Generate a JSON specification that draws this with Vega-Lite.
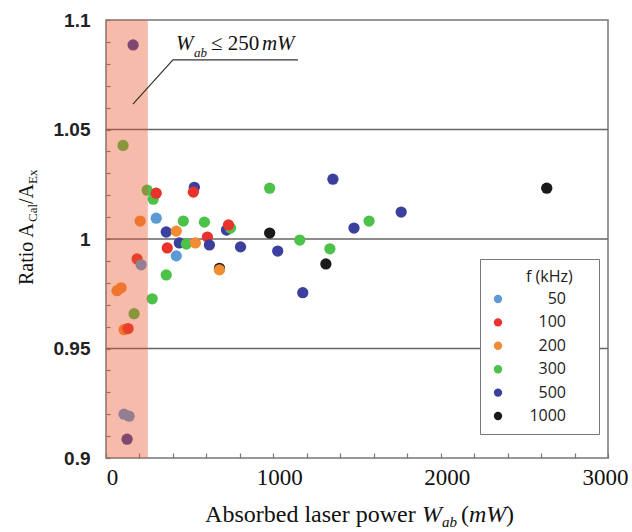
{
  "$schema": "https://vega.github.io/schema/vega-lite/v6.json",
  "width": 502,
  "height": 438,
  "autosize": {"type": "none"},
  "padding": {"left": 106, "top": 20, "right": 24, "bottom": 74},
  "background": "white",
  "config": {
    "view": {"stroke": "#777777", "strokeWidth": 1.5},
    "axis": {"grid": false, "domain": false, "labelOverlap": false}
  },
  "encoding": {
    "x": {
      "field": "x", "type": "quantitative", "title": null,
      "scale": {"domain": [0, 3000], "nice": false, "zero": false},
      "axis": {
        "values": [0, 200, 400, 600, 800, 1000, 1200, 1400, 1600, 1800, 2000, 2200, 2400, 2600, 2800, 3000],
        "format": "d",
        "labelExpr": "datum.value % 1000 == 0 ? datum.label : ''",
        "title": null, "labelOverlap": false,
        "ticks": true, "tickSize": -5, "tickColor": "#777777", "tickWidth": 1.2,
        "labelFont": "Liberation Serif", "labelFontSize": 23, "labelColor": "#111111",
        "labelPadding": 13, "labelFlush": false,
        "labelOffset": {"condition": {"test": "datum.value == 3000", "value": -3}, "value": 6},
        "labelBaseline": "top"
      }
    },
    "y": {
      "field": "y", "type": "quantitative", "title": null,
      "scale": {"domain": [0.9, 1.1], "nice": false, "zero": false},
      "axis": {
        "values": [0.9, 0.91, 0.92, 0.93, 0.94, 0.95, 0.96, 0.97, 0.98, 0.99, 1, 1.01, 1.02, 1.03, 1.04, 1.05, 1.06, 1.07, 1.08, 1.09, 1.1],
        "format": ".2~f",
        "labelExpr": "round(datum.value * 100) % 5 == 0 ? datum.label : ''",
        "title": null, "labelOverlap": false,
        "ticks": true, "tickSize": -4, "tickColor": "#777777", "tickWidth": 1.2,
        "labelFont": "Liberation Sans", "labelFontSize": 19, "labelFontWeight": "bold", "labelColor": "#222222",
        "labelPadding": 20, "labelBaseline": "middle"
      }
    }
  },
  "layer": [
    {
      "data": {"values": [{"y": 0.95, "x": 0, "x2": 3000}, {"y": 1.0, "x": 0, "x2": 3000}, {"y": 1.05, "x": 0, "x2": 3000}]},
      "mark": {"type": "rule", "color": "#666666", "strokeWidth": 1.5},
      "encoding": {"x2": {"field": "x2"}}
    },
    {
      "data": {"values": [
        {"x": 162, "y": 1.0886, "f": "500"},
        {"x": 102, "y": 1.0427, "f": "300"},
        {"x": 204, "y": 1.0082, "f": "200"},
        {"x": 246, "y": 1.0223, "f": "300"},
        {"x": 186, "y": 0.9909, "f": "100"},
        {"x": 210, "y": 0.9882, "f": "50"},
        {"x": 66, "y": 0.9764, "f": "200"},
        {"x": 90, "y": 0.9777, "f": "200"},
        {"x": 168, "y": 0.9659, "f": "300"},
        {"x": 108, "y": 0.9586, "f": "200"},
        {"x": 132, "y": 0.9591, "f": "100"},
        {"x": 108, "y": 0.92, "f": "50"},
        {"x": 138, "y": 0.9191, "f": "50"},
        {"x": 126, "y": 0.9086, "f": "500"},
        {"x": 282, "y": 1.0182, "f": "300"},
        {"x": 300, "y": 1.0209, "f": "100"},
        {"x": 300, "y": 1.0095, "f": "50"},
        {"x": 360, "y": 1.0032, "f": "500"},
        {"x": 420, "y": 1.0036, "f": "200"},
        {"x": 462, "y": 1.0082, "f": "300"},
        {"x": 528, "y": 1.0236, "f": "500"},
        {"x": 522, "y": 1.0214, "f": "100"},
        {"x": 588, "y": 1.0077, "f": "300"},
        {"x": 606, "y": 1.0009, "f": "100"},
        {"x": 720, "y": 1.0041, "f": "500"},
        {"x": 744, "y": 1.005, "f": "300"},
        {"x": 732, "y": 1.0064, "f": "100"},
        {"x": 978, "y": 1.0232, "f": "300"},
        {"x": 978, "y": 1.0027, "f": "1000"},
        {"x": 1158, "y": 0.9995, "f": "300"},
        {"x": 366, "y": 0.9959, "f": "100"},
        {"x": 438, "y": 0.9982, "f": "500"},
        {"x": 480, "y": 0.9977, "f": "300"},
        {"x": 534, "y": 0.9982, "f": "200"},
        {"x": 618, "y": 0.9973, "f": "500"},
        {"x": 420, "y": 0.9923, "f": "50"},
        {"x": 360, "y": 0.9836, "f": "300"},
        {"x": 678, "y": 0.9866, "f": "1000"},
        {"x": 678, "y": 0.9859, "f": "200"},
        {"x": 804, "y": 0.9964, "f": "500"},
        {"x": 1026, "y": 0.9945, "f": "500"},
        {"x": 1176, "y": 0.9755, "f": "500"},
        {"x": 276, "y": 0.9727, "f": "300"},
        {"x": 1356, "y": 1.0273, "f": "500"},
        {"x": 1338, "y": 0.9955, "f": "300"},
        {"x": 1314, "y": 0.9886, "f": "1000"},
        {"x": 1482, "y": 1.005, "f": "500"},
        {"x": 1572, "y": 1.0082, "f": "300"},
        {"x": 1764, "y": 1.0123, "f": "500"},
        {"x": 2634, "y": 1.0232, "f": "1000"}
      ]},
      "mark": {"type": "circle", "size": 127, "opacity": 1},
      "encoding": {
        "color": {
          "field": "f", "type": "nominal",
          "scale": {
            "domain": ["50", "100", "200", "300", "500", "1000"],
            "range": ["#5b9bd5", "#e8322b", "#f28c32", "#4cc24a", "#3b3f9e", "#1a1a1a"]
          },
          "legend": {
            "title": "\u2800\u2800\u2800f (kHz)\u00a0\u2800",
            "orient": "none", "legendX": 374, "legendY": 239,
            "padding": 10,
            "fillColor": "white", "strokeColor": "#777777",
            "titleFont": "Open Sans", "titleFontSize": 16, "titleFontWeight": "normal", "titleColor": "#222222",
            "titlePadding": 6, "titleAnchor": "start",
            "labelFont": "Open Sans", "labelFontSize": 16, "labelColor": "#222222",
            "labelAlign": "right", "labelOffset": 60,
            "rowPadding": 7.4,
            "symbolType": "circle", "symbolSize": 70, "symbolOpacity": 1
          }
        }
      }
    },
    {
      "data": {"values": [{"x": 0, "x2": 250, "y": 0.9, "y2": 1.1}]},
      "mark": {"type": "rect", "color": "#e8552a", "opacity": 0.4},
      "encoding": {"x2": {"field": "x2"}, "y2": {"field": "y2"}}
    },
    {
      "data": {"values": [{"x": 161, "y": 1.0616}, {"x": 400, "y": 1.0818}, {"x": 1147, "y": 1.0818}]},
      "mark": {"type": "line", "color": "#333333", "strokeWidth": 1.2}
    },
    {
      "data": {"values": [{"x": 418, "y": 1.0863, "t": "W"}, {"x": 932, "y": 1.0863, "t": "mW"}]},
      "mark": {"type": "text", "font": "Liberation Serif", "fontSize": 21, "fontStyle": "italic", "align": "left", "baseline": "alphabetic", "color": "#111111"},
      "encoding": {"text": {"field": "t"}}
    },
    {
      "data": {"values": [{"x": 627, "y": 1.0863, "t": "≤ 250"}]},
      "mark": {"type": "text", "font": "Liberation Serif", "fontSize": 21, "align": "left", "baseline": "alphabetic", "color": "#111111"},
      "encoding": {"text": {"field": "t"}}
    },
    {
      "data": {"values": [{"x": 526, "y": 1.0831, "t": "ab"}]},
      "mark": {"type": "text", "font": "Liberation Serif", "fontSize": 13, "fontStyle": "italic", "align": "left", "baseline": "alphabetic", "color": "#111111"},
      "encoding": {"text": {"field": "t"}}
    },
    {
      "data": {"values": [{"x": 592, "y": 0.8708, "t": "Absorbed laser power"}, {"x": 2121, "y": 0.8708, "t": "("}, {"x": 2390, "y": 0.8708, "t": ")"}]},
      "mark": {"type": "text", "font": "Liberation Serif", "fontSize": 24, "align": "left", "baseline": "alphabetic", "color": "#111111"},
      "encoding": {"text": {"field": "t"}}
    },
    {
      "data": {"values": [{"x": 1888, "y": 0.8708, "t": "W"}, {"x": 2169, "y": 0.8708, "t": "mW"}]},
      "mark": {"type": "text", "font": "Liberation Serif", "fontSize": 24, "fontStyle": "italic", "align": "left", "baseline": "alphabetic", "color": "#111111"},
      "encoding": {"text": {"field": "t"}}
    },
    {
      "data": {"values": [{"x": 2008, "y": 0.8685, "t": "ab"}]},
      "mark": {"type": "text", "font": "Liberation Serif", "fontSize": 15, "fontStyle": "italic", "align": "left", "baseline": "alphabetic", "color": "#111111"},
      "encoding": {"text": {"field": "t"}}
    },
    {
      "data": {"values": [{"x": -436, "y": 0.979, "t": "Ratio A"}, {"x": -436, "y": 1.016, "t": "/A"}]},
      "mark": {"type": "text", "font": "Liberation Serif", "fontSize": 20, "angle": 270, "align": "left", "baseline": "alphabetic", "color": "#111111"},
      "encoding": {"text": {"field": "t"}}
    },
    {
      "data": {"values": [{"x": -412, "y": 1.0078, "t": "Cal"}, {"x": -412, "y": 1.0251, "t": "Ex"}]},
      "mark": {"type": "text", "font": "Liberation Serif", "fontSize": 13, "angle": 270, "align": "left", "baseline": "alphabetic", "color": "#111111"},
      "encoding": {"text": {"field": "t"}}
    }
  ]
}
